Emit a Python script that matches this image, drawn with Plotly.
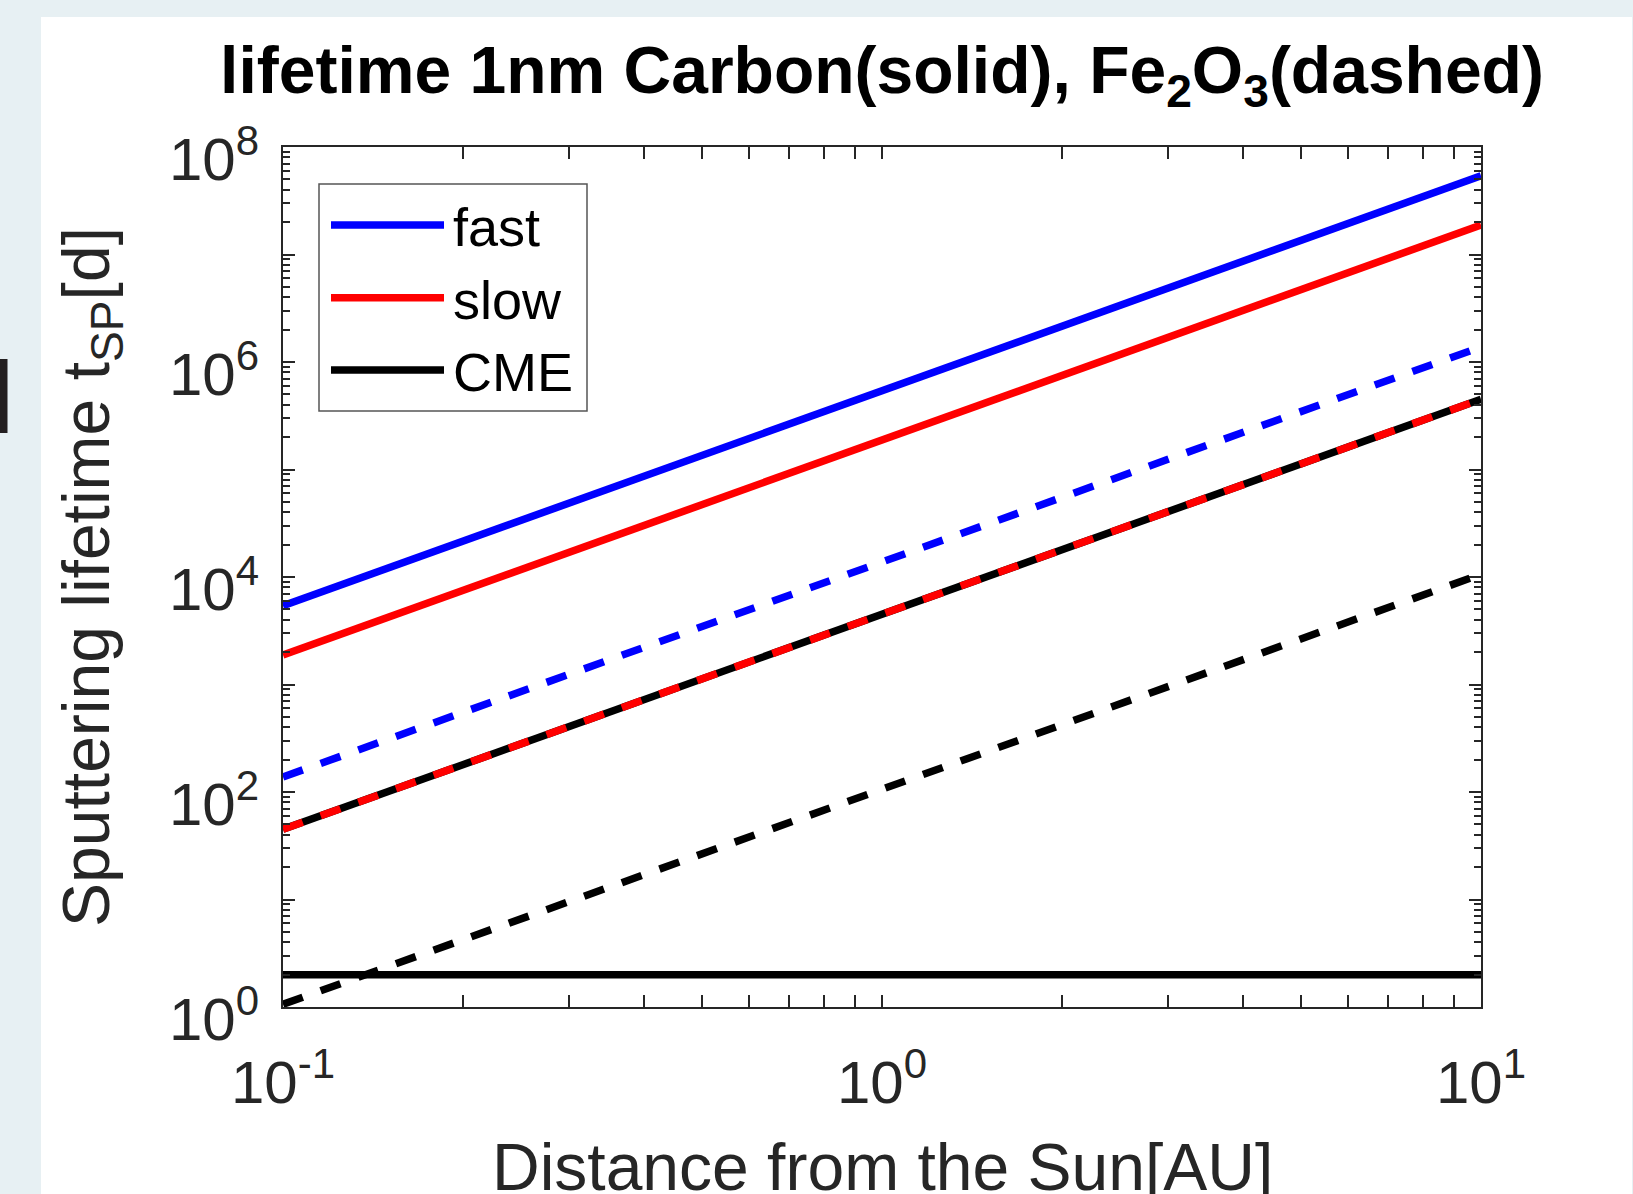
import plotly.graph_objects as go

# ---------------- data ----------------
distance_au = [0.1, 10]

carbon_fast = [5.4e3, 5.4e7]
carbon_slow = [1.88e3, 1.88e7]
carbon_cme = [2.0, 2.0]
carbon_cme_scaled = [4.5e1, 4.5e5]   # black solid line lying under the red dashed one

fe2o3_fast = [1.38e2, 1.38e6]
fe2o3_slow = [4.5e1, 4.5e5]
fe2o3_cme = [1.06, 1.06e4]

legend_names = ["fast", "slow", "CME"]
legend_colors = ["#0000ff", "#ff0000", "#000000"]

x_tickvals = [0.1, 1, 10]
x_ticktext = ["10<sup>-1</sup>", "10<sup>0</sup>", "10<sup>1</sup>"]
y_tickvals = [1, 1e2, 1e4, 1e6, 1e8]
y_ticktext = ["10<sup>0</sup>", "10<sup>2</sup>", "10<sup>4</sup>",
              "10<sup>6</sup>", "10<sup>8</sup>"]
y_unlabeled_decades = [1e1, 1e3, 1e5, 1e7]

title_text = "<b>lifetime 1nm Carbon(solid), Fe<sub>2</sub>O<sub>3</sub>(dashed)</b>"
x_title = "Distance from the Sun[AU]"
y_title = "Sputtering lifetime t<sub>SP</sub>[d]"

# ---------------- layout constants ----------------
W, H = 1633, 1194
ML, MR, MT, MB = 283, 152, 147, 187
PW, PH = W - ML - MR, H - MT - MB
FONT = "Liberation Sans, Arial, Helvetica, sans-serif"
AXC = "#262626"
LW = 7.5


def px_x(px):
    return (px - ML) / PW


def px_y(py):
    return (H - MB - py) / PH


fig = go.Figure()

solid = [
    (carbon_fast, legend_colors[0], "fast"),
    (carbon_slow, legend_colors[1], "slow"),
    (carbon_cme, legend_colors[2], "CME"),
    (carbon_cme_scaled, "#000000", "CME scaled"),
]
for vals, col, name in solid:
    fig.add_trace(go.Scatter(x=distance_au, y=vals, mode="lines", name=name,
                             line=dict(color=col, width=LW), showlegend=False))

dashed = [
    (fe2o3_fast, legend_colors[0], "fast Fe2O3"),
    (fe2o3_slow, legend_colors[1], "slow Fe2O3"),
    (fe2o3_cme, legend_colors[2], "CME Fe2O3"),
]
for vals, col, name in dashed:
    fig.add_trace(go.Scatter(x=distance_au, y=vals, mode="lines", name=name,
                             line=dict(color=col, width=LW, dash="21px,19px"),
                             showlegend=False))

shapes = []
# white panel on the light page background
shapes.append(dict(type="rect", xref="paper", yref="paper", layer="below",
                   x0=px_x(41), x1=px_x(1632), y0=px_y(1200), y1=px_y(17),
                   fillcolor="white", line=dict(width=0)))
# dark bar at the far left edge
shapes.append(dict(type="rect", xref="paper", yref="paper",
                   x0=px_x(0), x1=px_x(7.5), y0=px_y(433), y1=px_y(359),
                   fillcolor="#231f20", line=dict(width=0)))
# legend box
shapes.append(dict(type="rect", xref="paper", yref="paper",
                   x0=px_x(319), x1=px_x(587), y0=px_y(411), y1=px_y(184),
                   fillcolor="white", line=dict(color="#555555", width=1.5)))

annotations = []
leg_y = [225, 297.7, 370]
for name, col, ly in zip(legend_names, legend_colors, leg_y):
    shapes.append(dict(type="line", xref="paper", yref="paper",
                       x0=px_x(331), x1=px_x(444), y0=px_y(ly), y1=px_y(ly),
                       line=dict(color=col, width=LW)))
    annotations.append(dict(text=name, xref="paper", yref="paper",
                            x=px_x(451), y=px_y(ly + 2), xanchor="left", yanchor="middle",
                            showarrow=False, font=dict(family=FONT, size=54, color="#000000")))

# x-axis title (placed lower than plotly's margin-constrained axis title allows)
annotations.append(dict(text=x_title, xref="paper", yref="paper",
                        x=0.5, y=px_y(1128), xanchor="center", yanchor="top",
                        showarrow=False, font=dict(family=FONT, size=66, color=AXC)))

axis_common = dict(
    type="log",
    automargin=False,
    showline=True, linecolor=AXC, linewidth=2, mirror="allticks",
    ticks="inside", ticklen=12, tickwidth=1.5, tickcolor=AXC,
    tickmode="array",
    tickfont=dict(family=FONT, size=60, color=AXC),
    showgrid=False, zeroline=False,
    minor=dict(ticks="inside", ticklen=7, tickwidth=1.5, tickcolor=AXC,
               dtick="D1", showgrid=False),
)

fig.update_layout(
    width=W, height=H,
    autosize=False,
    margin=dict(l=ML, r=MR, t=MT, b=MB, pad=0, autoexpand=False),
    paper_bgcolor="#e7f0f3",
    plot_bgcolor="white",
    showlegend=False,
    font=dict(family=FONT, color=AXC),
    title=dict(text=title_text, x=0.5, xref="paper", xanchor="center",
               y=1 - 70 / H, yref="container", yanchor="middle",
               font=dict(family=FONT, size=66, color="#000000")),
    xaxis=dict(axis_common, range=[-1, 1], tickvals=x_tickvals, ticktext=x_ticktext,
               ticklabelstandoff=22),
    yaxis=dict(axis_common, range=[0, 8], tickvals=y_tickvals, ticktext=y_ticktext,
               ticklabelstandoff=10, ticklabelshift=12,
               title=dict(text=y_title, font=dict(family=FONT, size=66, color=AXC),
                          standoff=38)),
    yaxis2=dict(type="log", range=[0, 8], overlaying="y", side="left",
                automargin=False,
                tickmode="array", tickvals=y_unlabeled_decades,
                ticks="inside", ticklen=12, tickwidth=1.5, tickcolor=AXC,
                mirror="allticks", showline=False, showticklabels=False,
                showgrid=False, zeroline=False),
    shapes=shapes,
    annotations=annotations,
)

# invisible trace to bind the overlay axis carrying the unlabeled decade ticks
fig.add_trace(go.Scatter(x=distance_au, y=carbon_fast, yaxis="y2", mode="lines",
                         line=dict(width=0), hoverinfo="skip", showlegend=False,
                         opacity=0))

fig.write_html("out.html",
               config={"displayModeBar": False},
               post_script="document.body.style.margin='0';document.body.style.overflow='hidden';")
